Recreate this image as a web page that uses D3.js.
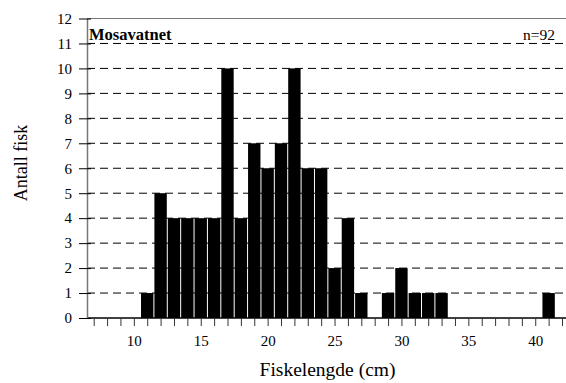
<!DOCTYPE html>
<html>
<head>
<meta charset="utf-8">
<script src="https://cdn.jsdelivr.net/npm/d3@7"></script>
<style>
  html, body { margin: 0; padding: 0; background: #fff; }
</style>
</head>
<body>
<svg id="chart" width="566" height="383"></svg>
<script>
// Length classes (cm) and number of fish in each class
const lengths = [7, 8, 9, 10, 11, 12, 13, 14, 15, 16, 17, 18, 19, 20, 21, 22, 23, 24,
                 25, 26, 27, 28, 29, 30, 31, 32, 33, 34, 35, 36, 37, 38, 39, 40, 41, 42];
const counts  = [0, 0, 0, 0, 1, 5, 4, 4, 4, 4, 10, 4, 7, 6, 7, 10, 6, 6,
                 2, 4, 1, 0, 1, 2, 1, 1, 1, 0, 0, 0, 0, 0, 0, 0, 1, 0];
const yTicks = [0, 1, 2, 3, 4, 5, 6, 7, 8, 9, 10, 11, 12];
const xLabelTicks = [10, 15, 20, 25, 30, 35, 40];
const lakeName = "Mosavatnet";
const sampleLabel = "n=92";
const xTitle = "Fiskelengde (cm)";
const yTitle = "Antall fisk";

const serif = "Liberation Serif";
const svg = d3.select("#chart");
const plotLeft = 87, plotRight = 568.7, plotTop = 18.5, plotBottom = 318;

const x = d3.scaleLinear().domain([6.5, 42.5]).range([plotLeft, plotRight]);
const y = d3.scaleLinear().domain([0, 12]).range([plotBottom, plotTop]);
const step = x(1) - x(0);

// dashed horizontal grid
svg.append("g").selectAll("line")
  .data(yTicks.filter(d => d > 0))
  .join("line")
  .attr("x1", plotLeft).attr("x2", 566)
  .attr("y1", d => y(d)).attr("y2", d => y(d))
  .attr("stroke", "#000").attr("stroke-width", 1)
  .attr("stroke-dasharray", "8,5");

// top frame line
svg.append("line")
  .attr("x1", plotLeft).attr("x2", 566).attr("y1", y(12)).attr("y2", y(12))
  .attr("stroke", "#777").attr("stroke-width", 1);

// bars
svg.append("g").selectAll("rect")
  .data(lengths.map((l, i) => ({ l, c: counts[i] })).filter(d => d.c > 0))
  .join("rect")
  .attr("x", d => x(d.l - 0.5) + 0.5)
  .attr("width", step - 1)
  .attr("y", d => y(d.c))
  .attr("height", d => y(0) - y(d.c))
  .attr("fill", "#000");

// x axis: baseline, ticks at every class, labels every 5 cm
const xAxis = d3.axisBottom(x)
  .tickValues(lengths)
  .tickSize(8)
  .tickFormat(d => xLabelTicks.includes(d) ? d : "");
const gx = svg.append("g").attr("transform", `translate(0,${plotBottom})`).call(xAxis)
  .attr("font-family", serif).attr("font-size", 15);
gx.select(".domain").attr("stroke", "#000").attr("stroke-width", 1.5)
  .attr("d", `M${plotLeft},0H${plotRight}`);
gx.selectAll(".tick line").attr("stroke", "#333").attr("stroke-width", 1);
gx.selectAll(".tick text").attr("fill", "#000").attr("dy", "1.1em");

// y axis with crossing ticks
const yAxis = d3.axisLeft(y).tickValues(yTicks).tickSize(0).tickPadding(15);
const gy = svg.append("g").attr("transform", `translate(${plotLeft},0)`).call(yAxis)
  .attr("font-family", serif).attr("font-size", 15);
gy.select(".domain").attr("stroke", "#777").attr("stroke-width", 1.5);
gy.selectAll(".tick line").attr("x1", -8).attr("x2", 4)
  .attr("stroke", "#000").attr("stroke-width", 1);
gy.selectAll(".tick text").attr("fill", "#000");

// panel labels
svg.append("text")
  .attr("x", 89).attr("y", 40)
  .attr("font-family", serif)
  .attr("font-size", 16.5).attr("font-weight", "bold")
  .text(lakeName);
svg.append("text")
  .attr("x", 555).attr("y", 40).attr("text-anchor", "end")
  .attr("font-family", serif)
  .attr("font-size", 15.5)
  .text(sampleLabel);

// axis titles
svg.append("text")
  .attr("x", 327.5).attr("y", 376).attr("text-anchor", "middle")
  .attr("font-family", serif)
  .attr("font-size", 19.5)
  .text(xTitle);
svg.append("text")
  .attr("transform", "translate(27,163) rotate(-90)")
  .attr("text-anchor", "middle")
  .attr("font-family", serif)
  .attr("font-size", 18)
  .text(yTitle);
</script>
</body>
</html>
